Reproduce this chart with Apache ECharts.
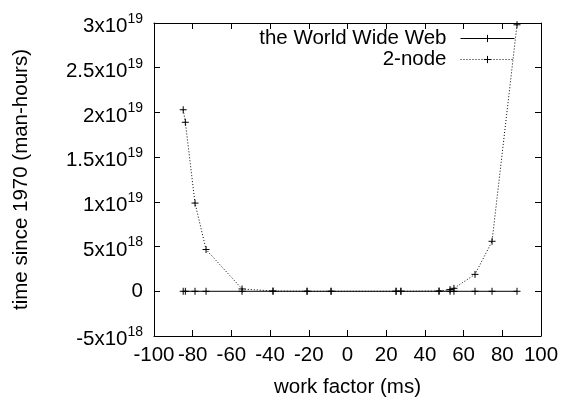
<!DOCTYPE html>
<html>
<head>
<meta charset="utf-8">
<script src="https://cdn.jsdelivr.net/npm/echarts@6/dist/echarts.min.js"></script>
<style>
  html, body { margin: 0; padding: 0; background: #fff; }
  #chart { width: 563px; height: 403px; }
</style>
</head>
<body>
<div id="chart"></div>
<script>
// Sample positions along the work-factor axis (ms)
const workFactor = [-84.9, -83.8, -78.8, -73.1, -54.5, -38.5, -20.9, -8.5,
                    25.1, 27.6, 47.3, 53.0, 55.0, 65.9, 74.7, 87.6];
// Time since 1970 (man-hours) for each series
const wwwTime = [0, 0, 0, 0, 0, 0, 0, 0, 0, 0, 0, 0, 0, 0, 0, 0];
const twoNodeTime = [2.03e19, 1.89e19, 9.86e18, 4.67e18, 2.6e17, 3e16, 1e15, 0,
                     0, 1e15, 3e16, 1.9e17, 3.3e17, 1.89e18, 5.59e18, 2.98e19];
const seriesNames = ['the World Wide Web', '2-node'];

// Axis ticks
const xTicks = [-100, -80, -60, -40, -20, 0, 20, 40, 60, 80, 100];
const yTickValues = [-5e18, 0, 5e18, 1e19, 1.5e19, 2e19, 2.5e19, 3e19];
const yTickMantissa = ['-5x10', '0', '5x10', '1x10', '1.5x10', '2x10', '2.5x10', '3x10'];
const yTickExponent = ['18', '', '18', '19', '19', '19', '19', '19'];

const FONT = 'Liberation Sans, Arial, Helvetica, sans-serif';
const FS = 20.5;

// '+' point marker
const plus = 'path://M0,4L8,4M4,0L4,8';
const dots = [1, 2];

function yLabel(v) {
  let i = 0, best = Infinity;
  yTickValues.forEach((t, k) => { const d = Math.abs(t - v); if (d < best) { best = d; i = k; } });
  if (!yTickExponent[i]) return '{m|' + yTickMantissa[i] + '}';
  return '{mm|' + yTickMantissa[i] + '}{s|' + yTickExponent[i] + '}';
}

function pairs(xs, ys) { return xs.map((x, i) => [x, ys[i]]); }

const axisCommon = {
  type: 'value',
  axisLine: { show: true, onZero: false, lineStyle: { color: '#000', width: 1 } },
  axisTick: { show: true, inside: true, length: 6, lineStyle: { color: '#000' } },
  splitLine: { show: false }
};

const chart = echarts.init(document.getElementById('chart'), null, { renderer: 'canvas' });
chart.setOption({
  animation: false,
  backgroundColor: '#fff',
  textStyle: { fontFamily: FONT, color: '#000' },
  grid: { left: 154, right: 22, top: 23, bottom: 64, containLabel: false },
  legend: {
    orient: 'vertical',
    right: 48,
    top: 28,
    padding: 0,
    align: 'right',
    itemGap: 0,
    itemWidth: 54,
    itemHeight: 9,
    selectedMode: false,
    lineStyle: { width: 1 },
    itemStyle: { borderWidth: 1 },
    textStyle: { fontFamily: FONT, fontSize: FS, color: '#000', padding: [0, 9, 0, 0] },
    data: seriesNames
  },
  xAxis: [
    Object.assign({}, axisCommon, {
      min: -100, max: 100, interval: 20, position: 'bottom',
      name: 'work factor (ms)', nameLocation: 'middle', nameGap: 41,
      nameTextStyle: { fontFamily: FONT, fontSize: FS, color: '#000' },
      axisLabel: {
        margin: 9, fontFamily: FONT, fontSize: FS, color: '#000',
        showMinLabel: true, showMaxLabel: true,
        formatter: v => String(xTicks[Math.round((v + 100) / 20)])
      }
    }),
    Object.assign({}, axisCommon, {
      min: -100, max: 100, interval: 20, position: 'top',
      axisLabel: { show: false }
    })
  ],
  yAxis: [
    Object.assign({}, axisCommon, {
      min: -5e18, max: 3e19, interval: 5e18, position: 'left',
      name: 'time since 1970 (man-hours)', nameLocation: 'middle', nameGap: 122,
      nameRotate: 90,
      nameTextStyle: { fontFamily: FONT, fontSize: FS, color: '#000' },
      axisLabel: {
        margin: 11, fontFamily: FONT, color: '#000',
        showMinLabel: true, showMaxLabel: true,
        formatter: yLabel,
        rich: {
          m: { fontFamily: FONT, fontSize: FS, color: '#000' },
          mm: { fontFamily: FONT, fontSize: FS, color: '#000', padding: [7, 0, 0, 0] },
          s: { fontFamily: FONT, fontSize: 14, color: '#000', padding: [0, 0, 8, 0] }
        }
      }
    }),
    Object.assign({}, axisCommon, {
      min: -5e18, max: 3e19, interval: 5e18, position: 'right',
      axisLabel: { show: false }
    })
  ],
  series: [
    {
      name: seriesNames[0],
      type: 'line',
      data: pairs(workFactor, wwwTime),
      symbol: plus,
      symbolSize: 7,
      showSymbol: true,
      lineStyle: { color: '#000', width: 1, type: 'solid' },
      itemStyle: { color: '#000', borderColor: '#000', borderWidth: 1 },
      emphasis: { disabled: true }
    },
    {
      name: seriesNames[1],
      type: 'line',
      data: pairs(workFactor, twoNodeTime),
      symbol: plus,
      symbolSize: 7,
      showSymbol: true,
      lineStyle: { color: '#000', width: 1, type: dots },
      itemStyle: { color: '#000', borderColor: '#000', borderWidth: 1 },
      emphasis: { disabled: true }
    }
  ]
});
</script>
</body>
</html>
